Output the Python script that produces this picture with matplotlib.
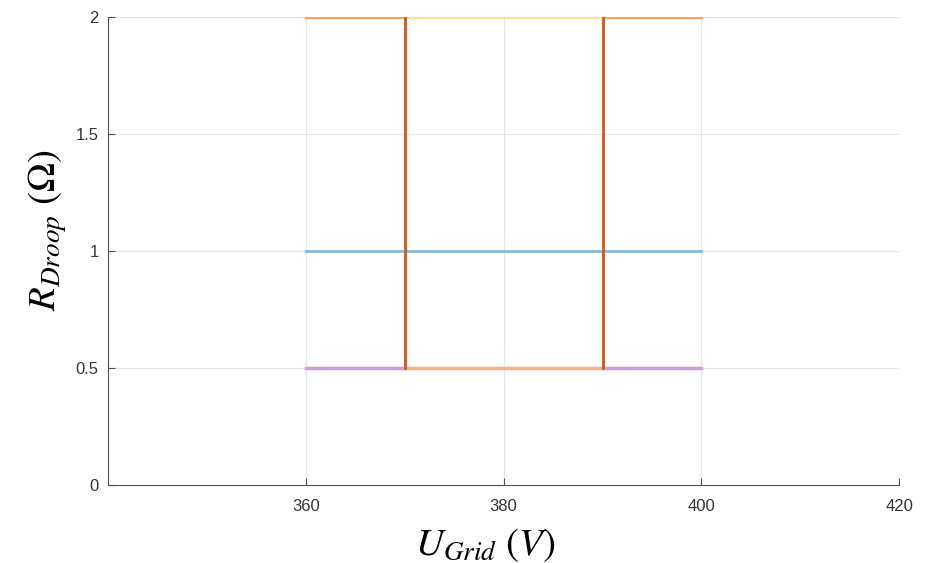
import numpy as np
import matplotlib.pyplot as plt

plt.rcParams['mathtext.fontset'] = 'stix'
plt.rcParams['font.family'] = ['Liberation Sans', 'DejaVu Sans']

# grid voltage break points (V) and droop resistance levels (Ohm)
u_outer = [360, 370, np.nan, 390, 400]
u_inner = [370, 390]
u_full = [360, 400]
r_high = 2.0
r_mid = 1.0
r_low = 0.5
u_switch = [370, 390]

fig = plt.figure(figsize=(9.25, 5.63), dpi=100)
ax = fig.add_axes([0.117, 0.1385, 0.855, 0.8315])

ax.plot(u_full, [r_mid, r_mid], color='#80b8e0', lw=2)
ax.plot(u_outer, [r_high] * len(u_outer), color='#f0a860', lw=2.5)
ax.plot(u_inner, [r_high, r_high], color='#f7e0a0', lw=2.5)
ax.plot(u_outer, [r_low] * len(u_outer), color='#c8a0d6', lw=2.5)
ax.plot(u_inner, [r_low, r_low], color='#f2b090', lw=2.5)
for u in u_switch:
    ax.plot([u, u], [r_low, r_high], color='#d95319', lw=2)

ax.set_xlim(340, 420)
ax.set_ylim(0, 2)
ax.set_xticks([360, 380, 400, 420])
ax.set_yticks([0, 0.5, 1, 1.5, 2])
ax.set_yticklabels(['0', '0.5', '1', '1.5', '2'])
ax.grid(True, color='#e6e6e6', lw=0.8)
ax.set_axisbelow(True)
for s in ['top', 'right']:
    ax.spines[s].set_visible(False)
for s in ['left', 'bottom']:
    ax.spines[s].set_color('#4d4d4d')
    ax.spines[s].set_linewidth(0.8)
ax.tick_params(direction='in', length=5, color='#4d4d4d', labelcolor='#333333', labelsize=12)
ax.tick_params(axis='x', pad=10)
ax.tick_params(axis='y', pad=7)

ax.set_xlabel(r'$U_{Grid}\ (V)$', fontsize=28)
ax.set_ylabel(r'$R_{Droop}\ (\Omega)$', fontsize=28)
ax.xaxis.set_label_coords(0.4766, -0.088)
ax.yaxis.set_label_coords(-0.05, 0.545)

fig.savefig('out.png')
